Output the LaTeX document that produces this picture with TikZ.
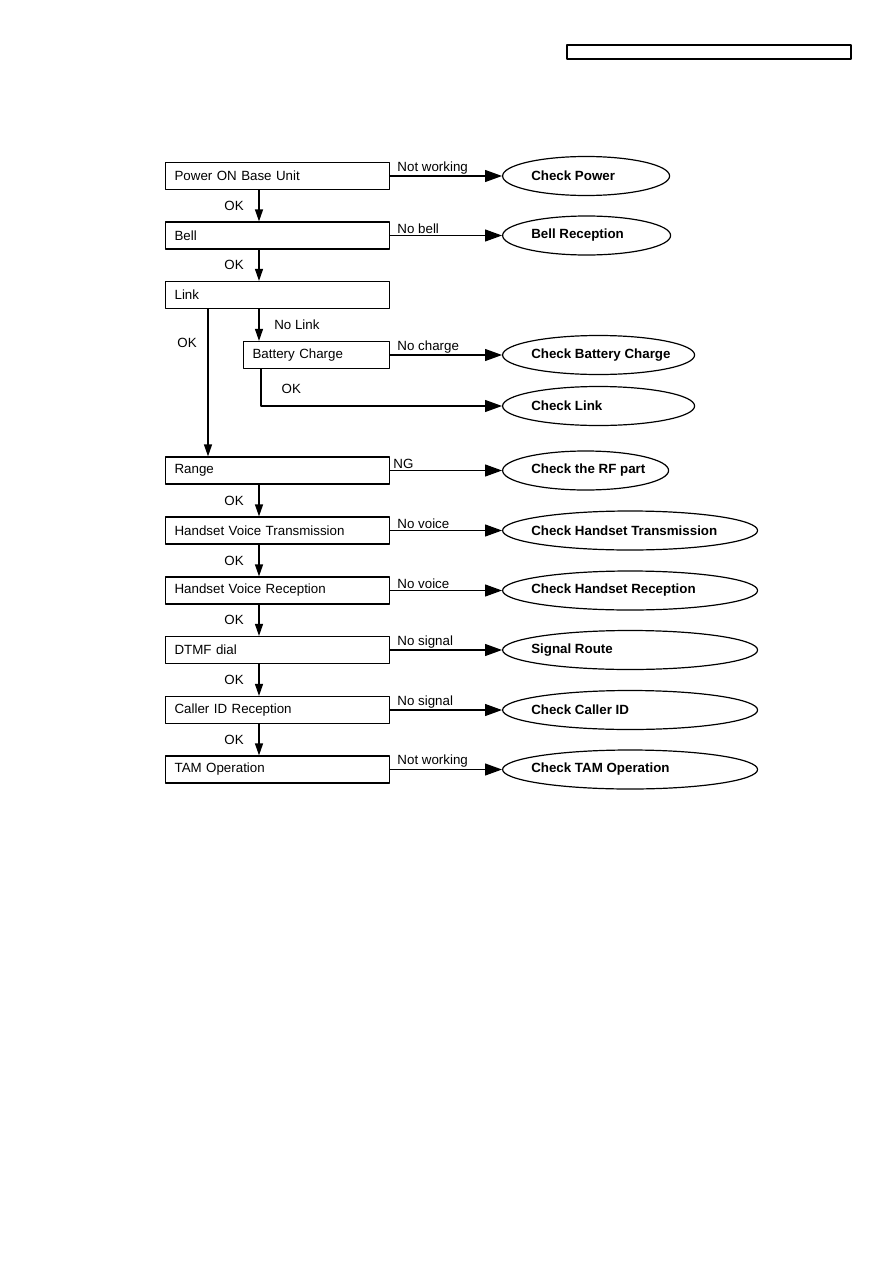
\documentclass[tikz,border=0pt]{standalone}
\usepackage{fontspec}
\setmainfont{Liberation Sans}
\usetikzlibrary{shapes.geometric,arrows.meta}

\begin{document}
\begin{tikzpicture}[x=0.75pt, y=-0.75pt, line join=round,
    font=\fontsize{10}{12}\selectfont,
    box/.style={draw, line width=0.9pt, rectangle, anchor=west, minimum height=20.25pt,
        inner xsep=6.75pt, text width=154.5pt, align=left},
    smallbox/.style={box, text width=96pt},
    oval/.style={draw, line width=0.9pt, ellipse, anchor=west, inner sep=0pt, minimum height=29.25pt},
    ovaltext/.style={anchor=west, inner sep=0pt, font=\fontsize{10}{12}\selectfont\bfseries},
    harrow/.style={line width=0.9pt, -{Triangle[length=12.75pt, width=9pt]}},
    varrow/.style={line width=0.9pt, -{Triangle[length=9pt, width=6pt]}},
    why/.style={anchor=south west, inner xsep=5pt, inner ysep=1pt},
    ok/.style={left, inner xsep=11pt}]
    \useasboundingbox (0,0) rectangle (893,1263);

    % header box
    \draw[line width=0.9pt] (567,45) rectangle (851,59);

    % steps
    \node[box] (pwr) at (165,176) {Power ON Base Unit};
    \node[box] (bell) at (165,235.5) {Bell};
    \node[box] (link) at (165,295) {Link};
    \node[smallbox] (batt) at (243,355) {Battery Charge};
    \node[box] (range) at (165,470.5) {Range};
    \node[box] (hvt) at (165,530.5) {Handset Voice Transmission};
    \node[box] (hvr) at (165,590.5) {Handset Voice Reception};
    \node[box] (dtmf) at (165,650) {DTMF dial};
    \node[box] (cid) at (165,710) {Caller ID Reception};
    \node[box] (tam) at (165,769.5) {TAM Operation};

    % checks
    \node[oval, minimum width=125.25pt] (cpwr) at (502,176) {};
    \node[ovaltext] (cpwr-t) at ([xshift=21.75pt]cpwr.west) {Check Power};
    \node[oval, minimum width=126pt] (cbell) at (502,235.5) {};
    \node[ovaltext] (cbell-t) at ([xshift=21.75pt]cbell.west) {Bell Reception};
    \node[oval, minimum width=144pt] (cbatt) at (502,355) {};
    \node[ovaltext] (cbatt-t) at ([xshift=21.75pt]cbatt.west) {Check Battery Charge};
    \node[oval, minimum width=144pt] (clink) at (502,406) {};
    \node[ovaltext] (clink-t) at ([xshift=21.75pt]clink.west) {Check Link};
    \node[oval, minimum width=124.5pt] (crf) at (502,470.5) {};
    \node[ovaltext] (crf-t) at ([xshift=21.75pt]crf.west) {Check the RF part};
    \node[oval, minimum width=191.25pt] (chvt) at (502,530.5) {};
    \node[ovaltext] (chvt-t) at ([xshift=21.75pt]chvt.west) {Check Handset Transmission};
    \node[oval, minimum width=191.25pt] (chvr) at (502,590.5) {};
    \node[ovaltext] (chvr-t) at ([xshift=21.75pt]chvr.west) {Check Handset Reception};
    \node[oval, minimum width=191.25pt] (cdtmf) at (502,650) {};
    \node[ovaltext] (cdtmf-t) at ([xshift=21.75pt]cdtmf.west) {Signal Route};
    \node[oval, minimum width=191.25pt] (ccid) at (502,710) {};
    \node[ovaltext] (ccid-t) at ([xshift=21.75pt]ccid.west) {Check Caller ID};
    \node[oval, minimum width=191.25pt] (ctam) at (502,769.5) {};
    \node[ovaltext] (ctam-t) at ([xshift=21.75pt]ctam.west) {Check TAM Operation};

    % failures
    \draw[harrow] (pwr.east) -- (cpwr.west) node[why, pos=0] {Not working};
    \draw[harrow] (bell.east) -- (cbell.west) node[why, pos=0] {No bell};
    \draw[harrow] (batt.east) -- (cbatt.west) node[why, pos=0] {No charge};
    \draw[harrow] (range.east) -- (crf.west) node[why, pos=0, inner xsep=2pt] {NG};
    \draw[harrow] (hvt.east) -- (chvt.west) node[why, pos=0] {No voice};
    \draw[harrow] (hvr.east) -- (chvr.west) node[why, pos=0] {No voice};
    \draw[harrow] (dtmf.east) -- (cdtmf.west) node[why, pos=0] {No signal};
    \draw[harrow] (cid.east) -- (ccid.west) node[why, pos=0] {No signal};
    \draw[harrow] (tam.east) -- (ctam.west) node[why, pos=0] {Not working};

    % OK path
    \draw[varrow] ([xshift=70.5pt]pwr.south west) -- ([xshift=70.5pt]bell.north west) node[ok, midway] {OK};
    \draw[varrow] ([xshift=70.5pt]bell.south west) -- ([xshift=70.5pt]link.north west) node[ok, midway] {OK};
    \draw[varrow] ([xshift=32.25pt]link.south west) -- ([xshift=32.25pt]range.north west) node[ok, pos=0.23, inner xsep=8pt] {OK};
    \draw[varrow] ([xshift=70.5pt]link.south west) -- ([xshift=12pt]batt.north west) node[midway, right, inner xsep=11pt] {No Link};
    \draw[harrow] ([xshift=13.5pt]batt.south west) |- (clink.west) node[pos=0.5, above right, xshift=11.7pt, yshift=5.7pt] {OK};
    \draw[varrow] ([xshift=70.5pt]range.south west) -- ([xshift=70.5pt]hvt.north west) node[ok, midway] {OK};
    \draw[varrow] ([xshift=70.5pt]hvt.south west) -- ([xshift=70.5pt]hvr.north west) node[ok, midway] {OK};
    \draw[varrow] ([xshift=70.5pt]hvr.south west) -- ([xshift=70.5pt]dtmf.north west) node[ok, midway] {OK};
    \draw[varrow] ([xshift=70.5pt]dtmf.south west) -- ([xshift=70.5pt]cid.north west) node[ok, midway] {OK};
    \draw[varrow] ([xshift=70.5pt]cid.south west) -- ([xshift=70.5pt]tam.north west) node[ok, midway] {OK};
\end{tikzpicture}
\end{document}
